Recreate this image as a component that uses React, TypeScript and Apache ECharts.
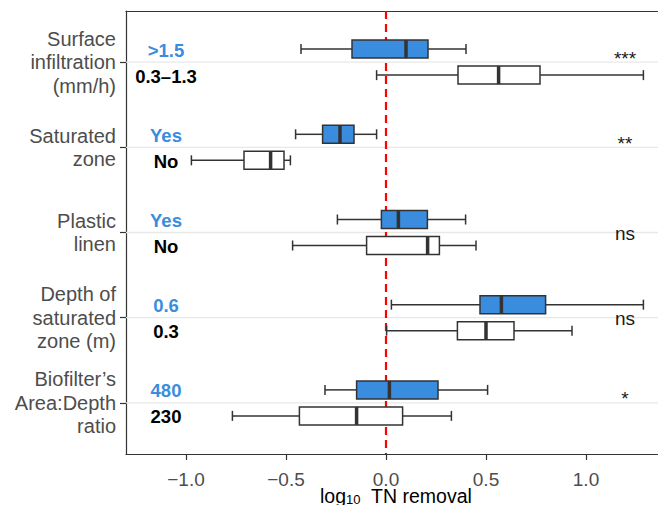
import React, { useEffect, useRef } from "react";
import * as echarts from "echarts";

// ---------------- data ----------------
const groupLabels = [
  "Surface\ninfiltration\n(mm/h)",
  "Saturated\nzone",
  "Plastic\nlinen",
  "Depth of\nsaturated\nzone (m)",
  "Biofilter’s\nArea:Depth\nratio",
];
const blueLevels = [">1.5", "Yes", "Yes", "0.6", "480"];
const whiteLevels = ["0.3–1.3", "No", "No", "0.3", "230"];
// [lower whisker, Q1, median, Q3, upper whisker]
const blueStats = [
  [-0.425, -0.17, 0.1, 0.21, 0.4],
  [-0.452, -0.317, -0.23, -0.16, -0.047],
  [-0.243, -0.023, 0.062, 0.207, 0.398],
  [0.027, 0.47, 0.577, 0.798, 1.287],
  [-0.305, -0.147, 0.017, 0.26, 0.508],
];
const whiteStats = [
  [-0.047, 0.36, 0.563, 0.77, 1.287],
  [-0.973, -0.71, -0.577, -0.51, -0.478],
  [-0.467, -0.097, 0.208, 0.267, 0.45],
  [0.003, 0.357, 0.5, 0.64, 0.93],
  [-0.768, -0.433, -0.147, 0.083, 0.327],
];
const significance = ["***", "**", "ns", "ns", "*"];
const xTickValues = [-1.0, -0.5, 0, 0.5, 1.0];
const groupPositions = [0, 1, 2, 3, 4];
const referenceValue = [0];

// ---------------- style ----------------
const FONT = "'Liberation Sans', Arial, Helvetica, sans-serif";
const BLUE = "#3A8DDE";
const DARK = "#333333";
const X_MIN = -1.3;
const X_MAX = 1.36;
const LEVEL_X = -1.1;
const SIG_X = 1.195;

function boxRender(fill: string, dir: number) {
  return (params: any, api: any) => {
    const y = api.value(0);
    const mn = api.value(1);
    const q1 = api.value(2);
    const md = api.value(3);
    const q3 = api.value(4);
    const mx = api.value(5);
    const yc = api.coord([0, y])[1] + dir * 13;
    const X = (v: number) => api.coord([v, y])[0];
    const ls = { stroke: DARK, lineWidth: 1.5 };
    return {
      type: "group",
      children: [
        { type: "line", shape: { x1: X(mn), y1: yc, x2: X(q1), y2: yc }, style: ls },
        { type: "line", shape: { x1: X(q3), y1: yc, x2: X(mx), y2: yc }, style: ls },
        { type: "line", shape: { x1: X(mn), y1: yc - 5, x2: X(mn), y2: yc + 5 }, style: ls },
        { type: "line", shape: { x1: X(mx), y1: yc - 5, x2: X(mx), y2: yc + 5 }, style: ls },
        {
          type: "rect",
          shape: { x: X(q1), y: yc - 9, width: X(q3) - X(q1), height: 18 },
          style: { fill, stroke: DARK, lineWidth: 1.5 },
        },
        {
          type: "line",
          shape: { x1: X(md), y1: yc - 9, x2: X(md), y2: yc + 9 },
          style: { stroke: DARK, lineWidth: 3.5 },
        },
      ],
    };
  };
}

export default function App() {
  const ref = useRef<HTMLDivElement>(null);
  useEffect(() => {
    if (!ref.current) return;
    const chart = echarts.init(ref.current, undefined, { renderer: "svg" });
    const fmt = (v: number) => (v < 0 ? "\u2212" + Math.abs(v).toFixed(1) : v.toFixed(1));
    const option: any = {
      animation: false,
      grid: { left: 126, right: 0, top: 11, bottom: 51, show: false, containLabel: false },
      xAxis: [
        {
          type: "value",
          min: X_MIN,
          max: X_MAX,
          position: "bottom",
          axisLine: { show: true, onZero: false, lineStyle: { color: DARK, width: 1.2 } },
          axisTick: { show: true, length: 6, customValues: xTickValues, lineStyle: { color: DARK, width: 1.2 } },
          axisLabel: {
            customValues: xTickValues,
            formatter: fmt,
            fontSize: 19,
            color: "#4d4d4d",
            margin: 16,
            fontFamily: FONT,
          },
          splitLine: { show: false },
        },
        {
          type: "value",
          min: X_MIN,
          max: X_MAX,
          position: "top",
          axisLine: { show: true, onZero: false, lineStyle: { color: DARK, width: 1.2 } },
          axisTick: { show: false },
          axisLabel: { show: false },
          splitLine: { show: false },
        },
      ],
      yAxis: {
        type: "value",
        min: -0.6,
        max: 4.6,
        inverse: true,
        axisLine: { show: true, onZero: false, lineStyle: { color: DARK, width: 1.2 } },
        axisTick: { show: true, length: 6, customValues: groupPositions, lineStyle: { color: DARK, width: 1.2 } },
        axisLabel: {
          customValues: groupPositions,
          formatter: (v: number) => groupLabels[Math.round(v)],
          fontSize: 20,
          lineHeight: 23.5,
          color: "#4d4d4d",
          margin: 10,
          align: "right",
          fontFamily: FONT,
        },
        splitLine: { show: false },
      },
      series: [
        {
          type: "custom",
          name: "gridlines",
          z: 1,
          silent: true,
          data: groupPositions.map((p) => [0, p]),
          encode: { x: 0, y: 1 },
          renderItem: (params: any, api: any) => {
            const cs = params.coordSys;
            const y = api.coord([0, api.value(1)])[1];
            return {
              type: "line",
              shape: { x1: cs.x, y1: y, x2: cs.x + cs.width, y2: y },
              style: { stroke: "#e8e8e8", lineWidth: 1.3 },
            };
          },
        },
        {
          type: "custom",
          name: "reference",
          z: 2,
          silent: true,
          data: referenceValue.map((v) => [v, 0]),
          encode: { x: 0, y: 1 },
          renderItem: (params: any, api: any) => {
            const cs = params.coordSys;
            const x = api.coord([api.value(0), 0])[0];
            return {
              type: "line",
              shape: { x1: x, y1: cs.y, x2: x, y2: cs.y + cs.height },
              style: { stroke: "#ff0000", lineWidth: 2.2, lineDash: [8, 5] },
            };
          },
        },
        {
          type: "custom",
          name: "blue",
          z: 3,
          data: blueStats.map((s, i) => [i, ...s]),
          encode: { x: [1, 2, 3, 4, 5], y: 0 },
          renderItem: boxRender(BLUE, -1),
        },
        {
          type: "custom",
          name: "white",
          z: 3,
          data: whiteStats.map((s, i) => [i, ...s]),
          encode: { x: [1, 2, 3, 4, 5], y: 0 },
          renderItem: boxRender("#ffffff", 1),
        },
        {
          type: "custom",
          name: "levels",
          z: 4,
          data: groupPositions.map((p) => [LEVEL_X, p]),
          encode: { x: 0, y: 1 },
          renderItem: (params: any, api: any) => {
            const i = params.dataIndex;
            const [x, y] = api.coord([api.value(0), api.value(1)]);
            return {
              type: "group",
              children: [
                {
                  type: "text",
                  x,
                  y: y - 12,
                  style: {
                    text: blueLevels[i],
                    fill: BLUE,
                    fontSize: 18.5,
                    fontWeight: "bold",
                    fontFamily: FONT,
                    align: "center",
                    verticalAlign: "middle",
                  },
                },
                {
                  type: "text",
                  x,
                  y: y + 14,
                  style: {
                    text: whiteLevels[i],
                    fill: "#000000",
                    fontSize: 18.5,
                    fontWeight: "bold",
                    fontFamily: FONT,
                    align: "center",
                    verticalAlign: "middle",
                  },
                },
              ],
            };
          },
        },
        {
          type: "custom",
          name: "significance",
          z: 4,
          data: groupPositions.map((p) => [SIG_X, p]),
          encode: { x: 0, y: 1 },
          renderItem: (params: any, api: any) => {
            const i = params.dataIndex;
            const [x, y] = api.coord([api.value(0), api.value(1)]);
            const t = significance[i];
            const isStar = t.indexOf("*") >= 0;
            return {
              type: "text",
              x,
              y: y + (isStar ? -4 : 1),
              style: {
                text: t,
                fill: "#1a1a1a",
                fontSize: 19,
                fontFamily: FONT,
                align: "center",
                verticalAlign: "middle",
              },
            };
          },
        },
      ],
      graphic: [
        {
          type: "text",
          x: 396,
          y: 495,
          style: {
            text: "{m|log}{s|10}{m|  TN removal}",
            align: "center",
            verticalAlign: "middle",
            fill: "#000",
            fontFamily: FONT,
            rich: {
              m: { fontSize: 19.5, lineHeight: 22, verticalAlign: "bottom", fontFamily: FONT, fill: "#000" },
              s: { fontSize: 13, lineHeight: 12, verticalAlign: "bottom", fontFamily: FONT, fill: "#000" },
            },
          },
        },
      ],
    };
    chart.setOption(option);
    return () => chart.dispose();
  }, []);
  return (
    <div
      ref={ref}
      style={{ position: "fixed", left: 0, top: 0, width: 658, height: 505, background: "#fff" }}
    />
  );
}
